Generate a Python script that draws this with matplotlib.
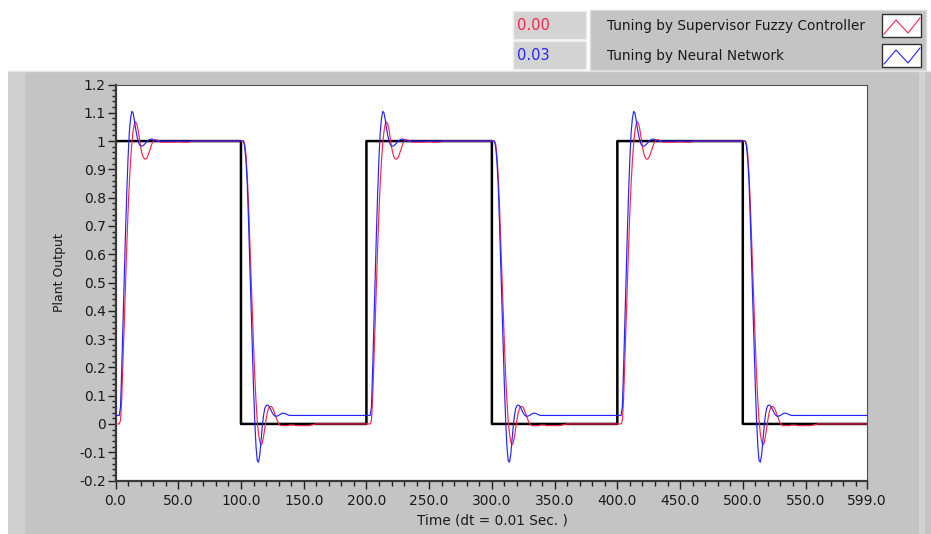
import numpy as np
import matplotlib
matplotlib.use("Agg")
import matplotlib.pyplot as plt
from matplotlib.patches import Rectangle
from matplotlib.lines import Line2D

# ---------------- data ----------------
half = 100
n_points = 600

# reference square wave level per half period (start at t=0)
ref_levels = [1, 0, 1, 0, 1, 0]

# Neural-network tuned response after a rising edge (samples s = 0..)
blue_rise = [0.03, 0.03, 0.03, 0.03, 0.06, 0.20, 0.36, 0.52, 0.68, 0.82,
             0.94, 1.03, 1.08, 1.105, 1.10, 1.075, 1.045, 1.02, 1.0, 0.988,
             0.983, 0.982, 0.984, 0.988, 0.993, 0.998, 1.002, 1.005, 1.007, 1.007,
             1.005, 1.003, 1.001, 1.0]
blue_high = 1.0
# after a falling edge
blue_fall = [1.0, 1.0, 1.0, 0.98, 0.93, 0.85, 0.72, 0.57, 0.42, 0.27,
             0.13, 0.01, -0.08, -0.13, -0.135, -0.11, -0.06, -0.01, 0.03, 0.055,
             0.065, 0.067, 0.064, 0.057, 0.048, 0.039, 0.032, 0.028, 0.027, 0.028,
             0.030, 0.033, 0.036, 0.038, 0.038, 0.037, 0.035, 0.033, 0.031, 0.03]
blue_low = 0.03

# Supervisor-fuzzy tuned response after a rising edge
red_rise = [0.0, 0.0, 0.0, 0.0, 0.012, 0.09, 0.22, 0.36, 0.50, 0.63,
            0.75, 0.85, 0.93, 0.99, 1.035, 1.06, 1.068, 1.06, 1.04, 1.01,
            0.98, 0.958, 0.944, 0.937, 0.936, 0.94, 0.95, 0.963, 0.977, 0.99,
            1.0, 1.004, 1.005, 1.004, 1.002, 0.999,
            0.996, 0.996, 0.996, 0.996, 0.996, 0.996, 0.996, 0.996, 0.996, 0.996,
            0.996, 0.996, 0.997, 0.997, 0.997, 0.997, 0.997, 0.996, 0.996, 0.996,
            0.996, 0.996, 0.996, 0.997, 0.998]
red_high = 1.0
red_fall = [1.0, 1.0, 1.0, 0.99, 0.95, 0.88, 0.78, 0.66, 0.53, 0.40,
            0.28, 0.17, 0.08, 0.01, -0.035, -0.062, -0.075, -0.068, -0.045, -0.015,
            0.015, 0.04, 0.055, 0.061, 0.062, 0.058, 0.048, 0.036, 0.023, 0.011,
            0.002, -0.004, -0.006, -0.006, -0.006, -0.006, -0.006, -0.006, -0.005, -0.004,
            -0.004, -0.004, -0.004, -0.005, -0.006, -0.006, -0.006, -0.006, -0.006, -0.006,
            -0.006, -0.006, -0.006, -0.006, -0.006, -0.005, -0.004, -0.003, -0.002, -0.001]
red_low = 0.0

x_ticks = [0, 50, 100, 150, 200, 250, 300, 350, 400, 450, 500, 550, 599]
x_ticklabels = ["0.0", "50.0", "100.0", "150.0", "200.0", "250.0", "300.0",
                "350.0", "400.0", "450.0", "500.0", "550.0", "599.0"]
y_ticks = [-0.2, -0.1, 0, 0.1, 0.2, 0.3, 0.4, 0.5, 0.6, 0.7, 0.8, 0.9, 1, 1.1, 1.2]
y_ticklabels = ["-0.2", "-0.1", "0", "0.1", "0.2", "0.3", "0.4", "0.5", "0.6",
                "0.7", "0.8", "0.9", "1", "1.1", "1.2"]

legend_names = ["Tuning by Supervisor Fuzzy Controller", "Tuning by Neural Network"]
legend_values = ["0.00", "0.03"]
x_label = "Time (dt = 0.01 Sec. )"
y_label = "Plant Output"


def segment(samples, settle):
    seg = list(samples[:half])
    seg += [settle] * (half - len(seg))
    return seg


def build(rise, high, fall, low):
    out = []
    for lvl in ref_levels:
        out += segment(rise, high) if lvl == 1 else segment(fall, low)
    return np.array(out[:n_points])


t = np.arange(n_points)
ref = np.repeat(ref_levels, half)[:n_points]
blue = build(blue_rise, blue_high, blue_fall, blue_low)
red = build(red_rise, red_high, red_fall, red_low)

# ---------------- figure ----------------
W, H = 931, 534
fig = plt.figure(figsize=(W / 100, H / 100), dpi=100, facecolor="white")

RED = "#ff2448"
BLUE = "#2323ff"
PANEL = "#c4c4c4"
TXT = "#1a1a1a"


def frect(x, y, w, h, **kw):
    r = Rectangle((x / W, 1 - (y + h) / H), w / W, h / H,
                  transform=fig.transFigure, **kw)
    fig.add_artist(r)
    return r


def fline(xs, ys, **kw):
    fig.add_artist(Line2D([x / W for x in xs], [1 - y / H for y in ys],
                          transform=fig.transFigure, **kw))


def ftext(x, y, s, **kw):
    return fig.text(x / W, 1 - y / H, s, **kw)


# main gray panel
frect(8, 71, 923, 463, facecolor=PANEL, edgecolor="none", zorder=0)
frect(8, 71, 17, 463, facecolor="#d0d0d0", edgecolor="none", zorder=0)
frect(919, 71, 6, 463, facecolor="#d2d2d2", edgecolor="none", zorder=0)
fline([8, 931], [71.5, 71.5], color="#e4e4e4", lw=1.0, zorder=0.5)

# numeric indicators
for i, (val, col) in enumerate(zip(legend_values, [RED, BLUE])):
    y0 = 11 + 30 * i
    frect(513, y0, 73, 28, facecolor="#d3d3d3", edgecolor="#ececec", lw=1.0, zorder=1)
    ftext(517, y0 + 14.5, val, color=col, fontsize=10.5,
          va="center", ha="left", zorder=3)

# legend panel
frect(590, 10, 336, 60, facecolor=PANEL, edgecolor="#dcdcdc", lw=1.0, zorder=1)
for i, (name, col) in enumerate(zip(legend_names, [RED, BLUE])):
    yc = 26 + 30 * i
    ftext(607, yc, name, color=TXT, fontsize=9.8, va="center", ha="left", zorder=3)
    bx, by = 882, yc - 12
    frect(bx, by, 39, 23, facecolor="white", edgecolor="#303030", lw=1.0, zorder=2)
    fline([bx + 2, bx + 14, bx + 26, bx + 38], [by + 20, by + 6, by + 19, by + 4],
          color=col, lw=0.8, zorder=3)

# ---------------- axes ----------------
ax_left, ax_right = 115.5, 867
ax_top, ax_bottom = 84.5, 480.5
ax = fig.add_axes([ax_left / W, 1 - ax_bottom / H,
                   (ax_right - ax_left) / W, (ax_bottom - ax_top) / H])
ax.set_facecolor("white")
ax.set_zorder(2)

ax.plot(t, ref, color="black", lw=1.8, drawstyle="steps-post", zorder=2)
ax.plot(t, red, color=RED, lw=0.85, zorder=3)
ax.plot(t, blue, color=BLUE, lw=0.85, zorder=4)

ax.set_xlim(0, 599)
ax.set_ylim(-0.2, 1.2)

ax.set_xticks(x_ticks)
ax.set_xticklabels(x_ticklabels)
ax.set_xticks(np.arange(0, 600, 10), minor=True)
ax.set_yticks(y_ticks)
ax.set_yticklabels(y_ticklabels)
ax.set_yticks(np.arange(-0.2, 1.2001, 0.02), minor=True)

ax.tick_params(axis="both", which="both", direction="out", color="#202020",
               labelcolor=TXT, labelsize=10, width=1.0)
ax.tick_params(axis="x", which="major", length=5.5, pad=4.5)
ax.tick_params(axis="x", which="minor", length=3.5)
ax.tick_params(axis="y", which="major", length=5.5, pad=1.5)
ax.tick_params(axis="y", which="minor", length=3.0)

for side in ["top", "right"]:
    ax.spines[side].set_color("#505050")
    ax.spines[side].set_linewidth(0.8)
for side in ["left", "bottom"]:
    ax.spines[side].set_color("#3a3a3a")
    ax.spines[side].set_linewidth(1.6)

ftext(492, 521, x_label, fontsize=9.8, color=TXT, ha="center", va="center")
ftext(60, 273, y_label, fontsize=9, color=TXT, ha="center", va="center",
      rotation=90)

fig.savefig("out.png", dpi=100, facecolor=fig.get_facecolor())
